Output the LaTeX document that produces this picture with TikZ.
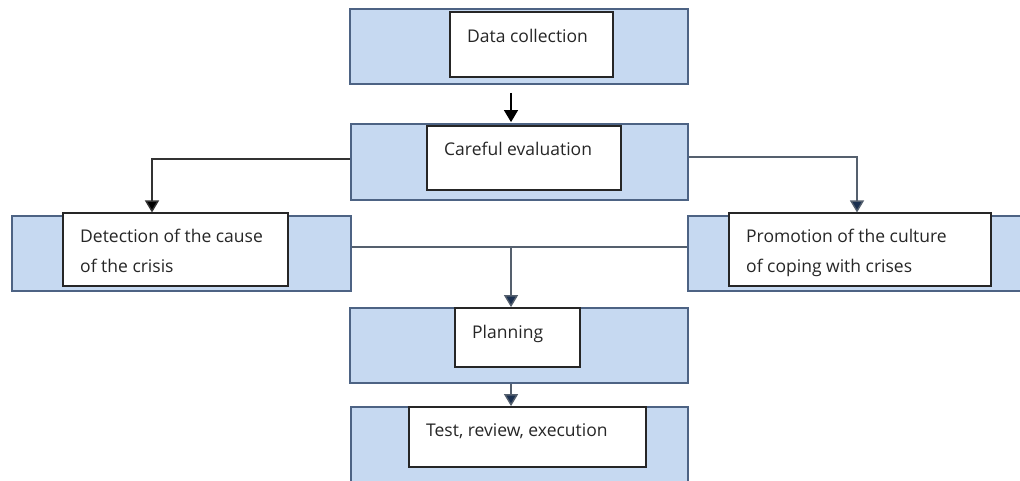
\documentclass[tikz,border=0pt]{standalone}
\usepackage{fontspec}
\setmainfont{Open Sans}
\usetikzlibrary{arrows.meta,calc}
\definecolor{bluefill}{HTML}{C6D9F1}
\definecolor{blueline}{HTML}{4D6384}
\definecolor{connline}{HTML}{55606E}
\definecolor{tipcol}{HTML}{1B3050}
\begin{document}
\begin{tikzpicture}[x=1pt,y=-1pt,
  bluebox/.style={draw=blueline,fill=bluefill,line width=1.8pt,rectangle,inner sep=0pt},
  whitebox/.style={draw=black!85,fill=white,line width=1.1pt,rectangle,inner sep=0pt},
  lbl/.style={anchor=base west,inner sep=0pt,align=left,font=\fontsize{17.5}{30}\selectfont,text=black!85},
  conn/.style={draw=connline,line width=1.4pt},
  arr/.style={conn,-{Triangle[width=14pt,length=12pt,fill=tipcol]}}
]
\useasboundingbox (0,0) rectangle (1020,480);
\clip (0,0) rectangle (1020,480);
% row 1
\node[bluebox,minimum width=338,minimum height=75] (b1) at (519,46.5) {};
\node[whitebox,minimum width=163,minimum height=65] (w1) at (531.5,44.5) {};
\node[lbl] (t1) at (467,42) {Data collection};
% row 2
\node[bluebox,minimum width=337,minimum height=76] (b2) at (519.5,162) {};
\node[whitebox,minimum width=194,minimum height=64] (w2) at (524,158) {};
\node[lbl] (t2) at (444,155) {Careful evaluation};
% row 3
\node[bluebox,minimum width=339,minimum height=75] (b3L) at (181.5,253.5) {};
\node[whitebox,minimum width=225,minimum height=73] (w3L) at (175.5,249.5) {};
\node[lbl] (t3L) at (80,272) {Detection of the cause\\of the crisis};
\node[bluebox,minimum width=337,minimum height=75] (b3R) at (856.5,253.5) {};
\node[whitebox,minimum width=262,minimum height=73] (w3R) at (860,249.5) {};
\node[lbl] (t3R) at (746,272) {Promotion of the culture\\of coping with crises};
% row 4
\node[bluebox,minimum width=338,minimum height=75] (b4) at (519,345.5) {};
\node[whitebox,minimum width=125,minimum height=59] (w4) at (517.5,337.5) {};
\node[lbl] (t4) at (472,338) {Planning};
% row 5
\node[bluebox,minimum width=337,minimum height=78] (b5) at (519.5,446) {};
\node[whitebox,minimum width=237,minimum height=60] (w5) at (527.5,437) {};
\node[lbl] (t5) at (426,436) {Test, review, execution};
% connectors
\draw[conn,draw=black,-{Triangle[width=14pt,length=12pt,fill=black]}]
  ([xshift=-8pt,yshift=-8pt]b1.south) -- ([xshift=-8.5pt,yshift=1pt]b2.north);
\draw[conn,-{Triangle[width=14pt,length=12pt,fill=black]},draw=black!80]
  ([yshift=3pt]b2.west) -| ([xshift=-23.5pt]w3L.north);
\draw[arr] ([yshift=5pt]b2.east) -| ([xshift=-3pt]w3R.north);
\draw[conn] ([yshift=6.5pt]b3L.east) -- ([yshift=6.5pt]b3R.west);
\coordinate (m) at (511,247);
\draw[arr] (m) -- (b4.north -| m);
\draw[arr] (b4.south -| m) -- (b5.north -| m);
\end{tikzpicture}
\end{document}
